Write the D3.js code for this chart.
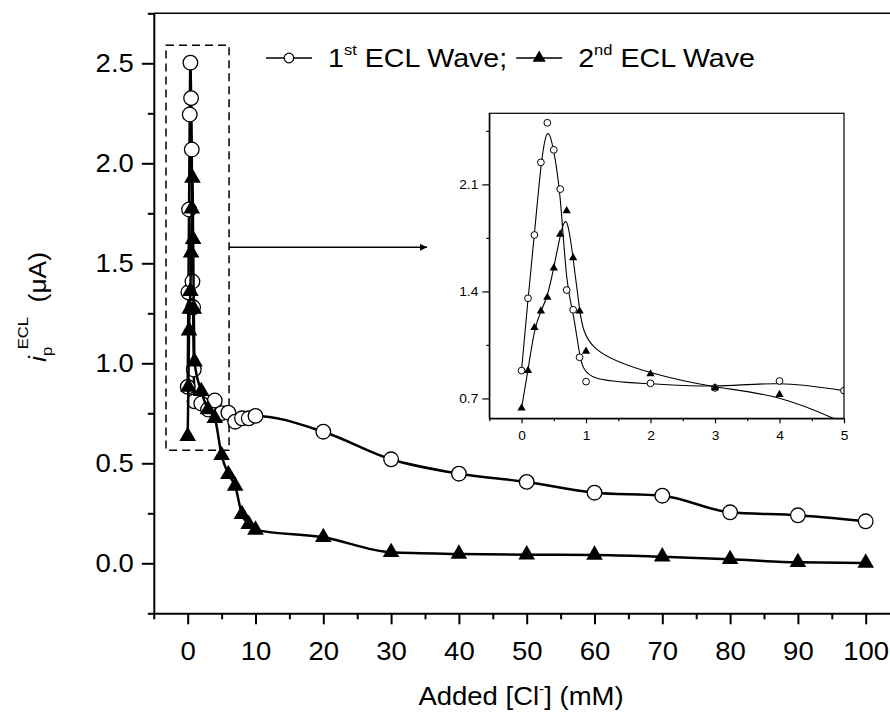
<!DOCTYPE html>
<html>
<head>
<meta charset="utf-8">
<script src="https://cdn.jsdelivr.net/npm/d3@7"></script>
<style>
  body { margin: 0; background: #fff; }
  svg { display: block; font-family: "Liberation Sans", Arial, sans-serif; }
  text { white-space: pre; }
</style>
</head>
<body>
<svg id="chart" width="890" height="717"></svg>
<script>
// Added chloride (mM) and peak ECL current (uA) for both waves
const chlorideMM = [0, 0.1, 0.2, 0.3, 0.4, 0.5, 0.6, 0.7, 0.8, 0.9, 1, 2, 3, 4, 5, 6, 7, 8, 9, 10,
    20, 30, 40, 50, 60, 70, 80, 90, 100];
const firstWave = [0.882, 1.355, 1.769, 2.244, 2.503, 2.326, 2.069, 1.409, 1.28, 0.969, 0.81, 0.799,
    0.769, 0.814, 0.751, 0.753, 0.708, 0.725, 0.725, 0.737, 0.658, 0.52, 0.448, 0.407, 0.353, 0.338,
    0.255, 0.24, 0.21];
const secondWave = [0.636, 0.882, 1.163, 1.272, 1.361, 1.553, 1.773, 1.927, 1.62, 1.272, 1.008, 0.86,
    0.769, 0.725, 0.54, 0.445, 0.387, 0.245, 0.195, 0.167, 0.13, 0.055, 0.047, 0.043, 0.042, 0.033,
    0.02, 0.005, 0.002];

const mainXTicks = [0, 10, 20, 30, 40, 50, 60, 70, 80, 90, 100];
const mainXMinor = [-5, 5, 15, 25, 35, 45, 55, 65, 75, 85, 95, 105];
const mainYTicks = [0, 0.5, 1, 1.5, 2, 2.5];
const mainYMinor = [-0.25, 0.25, 0.75, 1.25, 1.75, 2.25, 2.75];
const insetXTicks = [0, 1, 2, 3, 4, 5];
const insetXMinor = [-0.5, 0.5, 1.5, 2.5, 3.5, 4.5];
const insetYTicks = [0.7, 1.4, 2.1];
const insetYMinor = [1.05, 1.75, 2.45];

const legendNums = ["1", "2"];
const legendSups = ["st", "nd"];
const legendRest = [" ECL Wave;", " ECL Wave"];

// the reference lettering is a bit wider than Arial
const STRETCH = 1.1;

const svg = d3.select("#chart");

const series1 = chlorideMM.map((c, i) => ({ x: c, y: firstWave[i] }));
const series2 = chlorideMM.map((c, i) => ({ x: c, y: secondWave[i] }));

// --- main plot ---
const x = d3.scaleLinear().domain([-5, 105]).range([153.8, 899.6]);
const y = d3.scaleLinear().domain([-0.25, 2.75]).range([613.3, 13.3]);

function styleAxis(g, width) {
    g.select(".domain").attr("stroke", "#000").attr("stroke-width", width);
    g.selectAll(".tick line").attr("stroke", "#000").attr("stroke-width", width);
    g.selectAll(".tick text").attr("fill", "#000");
}

function stretchBottom(g) {
    g.selectAll(".tick text").attr("transform", `scale(${STRETCH},1)`);
}

function stretchLeft(g, offset) {
    g.selectAll(".tick text")
        .attr("x", -offset / STRETCH)
        .attr("transform", `scale(${STRETCH},1)`);
}

const xAxisG = svg.append("g")
    .attr("transform", `translate(0,${y(-0.25)})`)
    .style("font-size", "25px")
    .call(d3.axisBottom(x).tickValues(mainXTicks).tickSize(11).tickSizeOuter(0)
        .tickPadding(18).tickFormat(d3.format("d")));
styleAxis(xAxisG, 2);
stretchBottom(xAxisG);
const xMinorG = svg.append("g")
    .attr("transform", `translate(0,${y(-0.25)})`)
    .call(d3.axisBottom(x).tickValues(mainXMinor).tickSize(6).tickFormat(""));
xMinorG.select(".domain").remove();
styleAxis(xMinorG, 2);

const yAxisG = svg.append("g")
    .attr("transform", `translate(${x(-5)},0)`)
    .style("font-size", "25px")
    .call(d3.axisLeft(y).tickValues(mainYTicks).tickSize(12).tickSizeOuter(0)
        .tickPadding(8).tickFormat(d3.format(".1f")));
styleAxis(yAxisG, 2);
stretchLeft(yAxisG, 20);
const yMinorG = svg.append("g")
    .attr("transform", `translate(${x(-5)},0)`)
    .call(d3.axisLeft(y).tickValues(mainYMinor).tickSize(6).tickFormat(""));
yMinorG.select(".domain").remove();
styleAxis(yMinorG, 2);

// top frame line
svg.append("line")
    .attr("x1", x(-5)).attr("x2", x(105))
    .attr("y1", y(2.75)).attr("y2", y(2.75))
    .attr("stroke", "#000").attr("stroke-width", 1.5);

// dashed box around the low-concentration region + arrow to inset
svg.append("rect")
    .attr("x", x(-3.2)).attr("y", y(2.59))
    .attr("width", x(6.1) - x(-3.2)).attr("height", y(0.565) - y(2.59))
    .attr("fill", "none").attr("stroke", "#000")
    .attr("stroke-width", 1.5).attr("stroke-dasharray", "8,5");

const defs = svg.append("defs");
defs.append("marker")
    .attr("id", "arrowhead")
    .attr("viewBox", "0 0 10 10")
    .attr("refX", 10).attr("refY", 5)
    .attr("markerWidth", 9).attr("markerHeight", 7)
    .attr("markerUnits", "userSpaceOnUse")
    .attr("orient", "auto")
    .append("path").attr("d", "M0,0L10,5L0,10Z").attr("fill", "#000");

svg.append("line")
    .attr("x1", x(6.1)).attr("x2", x(35.3))
    .attr("y1", y(1.58)).attr("y2", y(1.58))
    .attr("stroke", "#000").attr("stroke-width", 1.5)
    .attr("marker-end", "url(#arrowhead)");

const mainLine = d3.line()
    .x(d => x(d.x))
    .y(d => y(d.y))
    .curve(d3.curveMonotoneX);

const triMain = d3.symbol().type(d3.symbolTriangle).size(120);
const triSmall = d3.symbol().type(d3.symbolTriangle).size(30);

function drawSeries(g, data, line, marker, lw) {
    g.append("path")
        .datum(data)
        .attr("fill", "none")
        .attr("stroke", "#000")
        .attr("stroke-width", lw)
        .attr("d", line);
    if (marker.type === "circle") {
        g.selectAll(null).data(data).enter().append("circle")
            .attr("cx", d => marker.x(d.x)).attr("cy", d => marker.y(d.y))
            .attr("r", marker.r)
            .attr("fill", "#fff").attr("stroke", "#000").attr("stroke-width", marker.sw);
    } else {
        g.selectAll(null).data(data).enter().append("path")
            .attr("transform", d => `translate(${marker.x(d.x)},${marker.y(d.y)})`)
            .attr("d", marker.sym)
            .attr("fill", "#000");
    }
}

const mainG = svg.append("g");
drawSeries(mainG, series1, mainLine, { type: "circle", x: x, y: y, r: 7.3, sw: 1.3 }, 2.5);
drawSeries(mainG, series2, mainLine, { type: "tri", x: x, y: y, sym: triMain }, 2.5);

// --- inset ---
const ix = d3.scaleLinear().domain([-0.5, 5]).range([489.3, 844]);
const iy = d3.scaleLinear().domain([0.57, 2.565]).range([418.3, 113.3]);
const insetW = ix.range()[1] - ix.range()[0];
const insetH = iy.range()[0] - iy.range()[1];

const insetG = svg.append("g");
insetG.append("rect")
    .attr("x", ix.range()[0]).attr("y", iy.range()[1])
    .attr("width", insetW).attr("height", insetH)
    .attr("fill", "#fff");

defs.append("clipPath").attr("id", "inset-clip")
    .append("rect")
    .attr("x", ix.range()[0]).attr("y", iy.range()[1])
    .attr("width", insetW).attr("height", insetH);

const insetLine = d3.line()
    .x(d => ix(d.x))
    .y(d => iy(d.y))
    .curve(d3.curveBasis);

const insetPlot = insetG.append("g").attr("clip-path", "url(#inset-clip)");
drawSeries(insetPlot, series1.filter(d => d.x <= 5), insetLine,
    { type: "circle", x: ix, y: iy, r: 3.4, sw: 1 }, 1.1);
drawSeries(insetPlot, series2.filter(d => d.x <= 5), insetLine,
    { type: "tri", x: ix, y: iy, sym: triSmall }, 1.1);

insetG.append("rect")
    .attr("x", ix.range()[0]).attr("y", iy.range()[1])
    .attr("width", insetW).attr("height", insetH)
    .attr("fill", "none").attr("stroke", "#000").attr("stroke-width", 1.2);

const ixAxis = insetG.append("g")
    .attr("transform", `translate(0,${iy.range()[0]})`)
    .style("font-size", "12.5px")
    .call(d3.axisBottom(ix).tickValues(insetXTicks).tickSize(5).tickSizeOuter(0)
        .tickPadding(8).tickFormat(d3.format("d")));
styleAxis(ixAxis, 1.2);
stretchBottom(ixAxis);
const ixMinor = insetG.append("g")
    .attr("transform", `translate(0,${iy.range()[0]})`)
    .call(d3.axisBottom(ix).tickValues(insetXMinor).tickSize(3).tickFormat(""));
ixMinor.select(".domain").remove();
styleAxis(ixMinor, 1.2);

const iyAxis = insetG.append("g")
    .attr("transform", `translate(${ix.range()[0]},0)`)
    .style("font-size", "12.5px")
    .call(d3.axisLeft(iy).tickValues(insetYTicks).tickSize(7).tickSizeOuter(0)
        .tickPadding(4).tickFormat(d3.format(".1f")));
styleAxis(iyAxis, 1.2);
stretchLeft(iyAxis, 11);
const iyMinor = insetG.append("g")
    .attr("transform", `translate(${ix.range()[0]},0)`)
    .call(d3.axisLeft(iy).tickValues(insetYMinor).tickSize(3).tickFormat(""));
iyMinor.select(".domain").remove();
styleAxis(iyMinor, 1.2);

// --- legend ---
const legendG = svg.append("g");
let lx = 266;
const legendMid = 58, legendBase = 67;
legendNums.forEach((num, i) => {
    const segLen = 46;
    legendG.append("line")
        .attr("x1", lx).attr("x2", lx + segLen)
        .attr("y1", legendMid).attr("y2", legendMid)
        .attr("stroke", "#000").attr("stroke-width", 1.5);
    if (i === 0) {
        legendG.append("circle")
            .attr("cx", lx + segLen / 2).attr("cy", legendMid).attr("r", 4.8)
            .attr("fill", "#fff").attr("stroke", "#000").attr("stroke-width", 1.2);
    } else {
        legendG.append("path")
            .attr("transform", `translate(${lx + segLen / 2},${legendMid})`)
            .attr("d", d3.symbol().type(d3.symbolTriangle).size(75))
            .attr("fill", "#000");
    }
    lx += segLen + 16;
    const t = legendG.append("text")
        .attr("transform", `translate(${lx},${legendBase}) scale(${STRETCH},1)`)
        .style("font-size", "26px");
    t.append("tspan").text(num);
    t.append("tspan").attr("dy", -12).style("font-size", "15px").text(legendSups[i]);
    t.append("tspan").attr("dy", 12).text(legendRest[i]);
    lx += t.node().getComputedTextLength() * STRETCH + 9;
});

// --- axis titles ---
const xt = svg.append("text")
    .attr("transform", `translate(521,705) scale(${STRETCH},1)`)
    .attr("text-anchor", "middle")
    .style("font-size", "25px");
xt.append("tspan").text("Added [Cl");
xt.append("tspan").attr("dy", -11).style("font-size", "14px").text("-");
xt.append("tspan").attr("dy", 11).text("] (mM)");

const yt = svg.append("text")
    .attr("transform", `translate(46,307) rotate(-90) scale(${STRETCH},1)`)
    .attr("text-anchor", "middle")
    .style("font-size", "24px");
yt.append("tspan").style("font-style", "italic").text("i");
yt.append("tspan").attr("dy", 6).style("font-size", "15px").text("p");
yt.append("tspan").attr("dy", -24).attr("dx", -2).style("font-size", "15px").text("ECL");
yt.append("tspan").attr("dy", 18).text("  (\u03bcA)");
</script>
</body>
</html>
